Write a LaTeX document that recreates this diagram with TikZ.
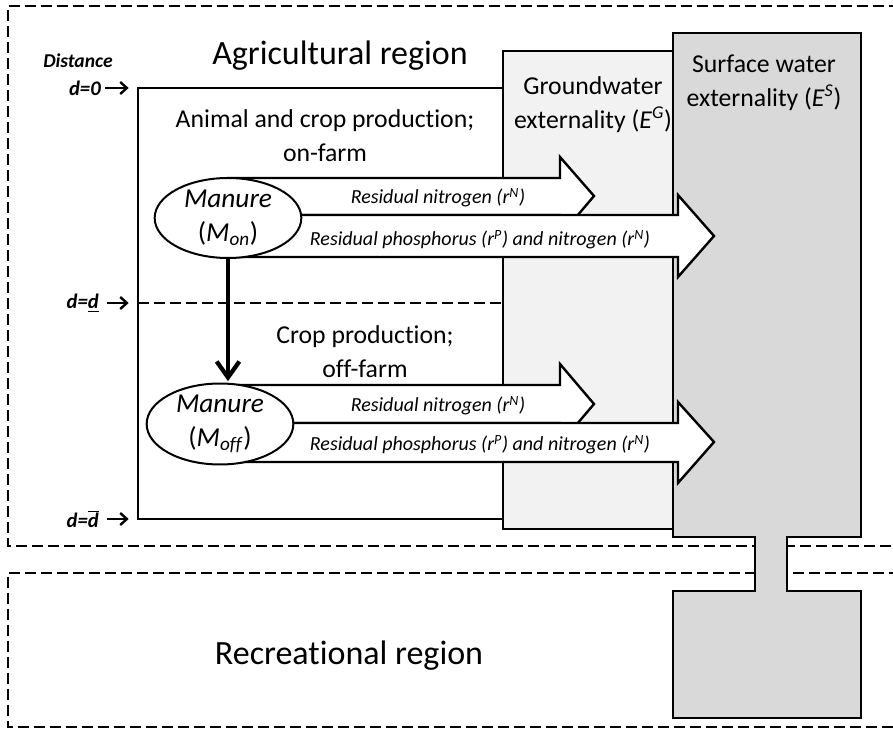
\documentclass[tikz,border=0pt]{standalone}
\usepackage{fontspec}
\setmainfont{Carlito}[Ligatures={NoCommon,NoRequired,NoContextual}]
\usetikzlibrary{arrows.meta,shapes.geometric}
\definecolor{gwgray}{HTML}{F2F2F2}
\definecolor{swgray}{HTML}{D9D9D9}

\begin{document}
\begin{tikzpicture}[x=0.75pt, y=-0.75pt, line join=miter,
    every node/.style={inner sep=0pt, font=\fontsize{19.3}{25.5}\selectfont},
    region/.style={line width=2.1pt, dash pattern=on 8pt off 4pt},
    wall/.style={draw, line width=2.1pt},
    manure/.style={draw, ellipse, fill=white, line width=1.5pt, align=center, minimum width=110pt, minimum height=60pt,
        font=\fontsize{20.5}{25}\selectfont},
    flow/.style={draw, fill=white, line width=1.8pt},
    flowtext/.style={anchor=base, font=\fontsize{15}{18}\selectfont\itshape},
    dist/.style={anchor=east, font=\fontsize{15.5}{18}\selectfont\bfseries\itshape},
    pointer/.style={-{Straight Barb[length=5pt, width=9pt]}, line width=1.8pt}]

    \useasboundingbox (0,0) rectangle (893,730);
    \clip (0,0) rectangle (893,730);

    % Regions
    \draw[region] (900,6) -- (8,6) -- (8,546) -- (900,546);
    \draw[region] (900,573) -- (8,573) -- (8,727) -- (900,727);

    % Farm area with distance split
    \coordinate (nw) at (138,88);
    \coordinate (wmid) at (138,303);
    \coordinate (swc) at (138,519);
    \draw[wall] (503,88) -- (nw) -- (swc) -- (503,519);
    \draw[region] (wmid) -- (503,303);

    % Externalities
    \draw[wall, fill=gwgray] (503,51) rectangle (673,529);
    \draw[wall, fill=swgray] (673,33) -- (861,33) -- (861,537) -- (787,537) -- (787,591) -- (861,591)
        -- (861,718) -- (673,718) -- (673,591) -- (755,591) -- (755,537) -- (673,537) -- cycle;
    \node[align=center] (gw) at (593,105) {Groundwater\\externality (\textit{E}\textsuperscript{\textit{G}})};
    \node[align=center] (sw) at (764,83) {Surface water\\externality (\textit{E}\textsuperscript{\textit{S}})};

    % Titles
    \node[anchor=base, font=\fontsize{25.5}{30}\selectfont] (agri) at (340,65) {Agricultural region};
    \node[anchor=base, font=\fontsize{25.5}{30}\selectfont] (recr) at (349,665) {Recreational region};
    \node[align=center] (onfarm) at (325,136) {Animal and crop production;\\on-farm};
    \node[align=center] (offfarm) at (365,352) {Crop production;\\off-farm};

    % Distance labels
    \node[anchor=base, font=\fontsize{14.7}{18}\selectfont\bfseries\itshape] (dist) at (78,68) {Distance};
    \node[dist] (d0) at (101,88) {d=0};
    \node[dist] (dlow) at (99,303) {d=\underline{d}};
    \node[dist] (dhigh) at (99,519) {d=$\overline{\mbox{d}}$};
    \draw[pointer] ([xshift=3pt]d0.east) -- ([xshift=-7pt]nw);
    \draw[pointer] ([xshift=6pt]dlow.east) -- ([xshift=-7pt]wmid);
    \draw[pointer] ([xshift=6pt]dhigh.east) -- ([xshift=-7pt]swc);

    % Residual flows, on-farm
    \draw[flow] (228,178) -- (560,178) -- (560,157) -- (594,196) -- (560,236) -- (560,215) -- (228,215) -- cycle;
    \draw[flow] (228,215) -- (678,215) -- (678,195) -- (714,236) -- (678,277) -- (678,257) -- (228,257) -- cycle;
    \node[flowtext] (rnon) at (438,204) {Residual nitrogen (r\textsuperscript{N})};
    \node[flowtext] (rpnon) at (480,246) {Residual phosphorus (r\textsuperscript{P}) and nitrogen (r\textsuperscript{N})};

    % Residual flows, off-farm
    \draw[flow] (220,385) -- (560,385) -- (560,364) -- (594,404) -- (560,444) -- (560,423) -- (220,423) -- cycle;
    \draw[flow] (220,423) -- (678,423) -- (678,402) -- (714,442) -- (678,483) -- (678,462) -- (220,462) -- cycle;
    \node[flowtext] (rnoff) at (438,412) {Residual nitrogen (r\textsuperscript{N})};
    \node[flowtext] (rpnoff) at (480,451) {Residual phosphorus (r\textsuperscript{P}) and nitrogen (r\textsuperscript{N})};

    % Manure
    \node[manure] (mon) at (228,218) {\textit{Manure}\\(\textit{M}\textsubscript{\textit{on}})};
    \node[manure] (moff) at (220,424) {\textit{Manure}\\(\textit{M}\textsubscript{\textit{off}})};
    \draw[-{Straight Barb[length=12pt, width=17pt]}, line width=3.2pt, shorten >=1pt] (mon.south) -- (mon.south |- moff.north);
\end{tikzpicture}
\end{document}
